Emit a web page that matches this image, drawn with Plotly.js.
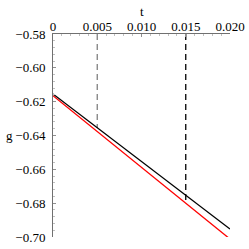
<!DOCTYPE html>
<html><head><meta charset="utf-8">
<script src="https://cdn.plot.ly/plotly-3.0.1.min.js"></script>
<style>html,body{margin:0;padding:0;background:#fff}#c{width:249px;height:249px}</style>
</head><body><div id="c"></div>
<script>
const tBlack = [0, 0.020];
const gBlack = [-0.6155, -0.6953];
const tRed = [0, 0.020];
const gRed = [-0.6165, -0.7012];
const guideT1 = [0.005, 0.005];
const guideG1 = [-0.58, -0.6355];
const guideT2 = [0.015, 0.015];
const guideG2 = [-0.58, -0.6795];
const xTickVals = [0, 0.005, 0.010, 0.015, 0.020];
const xTickText = ["0", "0.005", "0.010", "0.015", "0.020"];
const yTickVals = [-0.58, -0.60, -0.62, -0.64, -0.66, -0.68, -0.70];
const yTickText = ["\u22120.58", "\u22120.60", "\u22120.62", "\u22120.64", "\u22120.66", "\u22120.68", "\u22120.70"];

const font = {family: "Times New Roman", size: 13, color: "#000"};
const data = [
  {x: guideT1, y: guideG1, mode: "lines", line: {color: "#808080", width: 1.3, dash: "6px,4px"}, hoverinfo: "skip"},
  {x: guideT2, y: guideG2, mode: "lines", line: {color: "#000", width: 1.3, dash: "6px,4px"}, hoverinfo: "skip"},
  {x: tRed, y: gRed, mode: "lines", line: {color: "#ff0000", width: 1.3}},
  {x: tBlack, y: gBlack, mode: "lines", line: {color: "#000", width: 1.3}}
];
const layout = {
  width: 249, height: 249,
  margin: {l: 53, r: 19, t: 34, b: 12},
  paper_bgcolor: "#fff", plot_bgcolor: "#fff",
  showlegend: false,
  font: font,
  xaxis: {
    side: "top", range: [0, 0.020], tickvals: xTickVals, ticktext: xTickText,
    showgrid: false, zeroline: false, showline: true, linecolor: "#707070", linewidth: 1,
    ticks: "inside", ticklen: 3, tickcolor: "#909090", ticklabelstandoff: -3,
    minor: {dtick: 0.001, ticklen: 2, tickcolor: "#c0c0c0", ticks: "inside"},
    tickfont: font
  },
  yaxis: {
    range: [-0.70, -0.58], tickvals: yTickVals, ticktext: yTickText,
    showgrid: false, zeroline: false, showline: true, linecolor: "#707070", linewidth: 1,
    ticks: "inside", ticklen: 3, tickcolor: "#909090", ticklabelstandoff: 4,
    minor: {dtick: 0.004, ticklen: 2, tickcolor: "#c0c0c0", ticks: "inside"},
    tickfont: font
  },
  annotations: [
    {text: "t", xref: "paper", yref: "paper", x: 0.5, y: 1, yshift: 23, xanchor: "center", yanchor: "middle", showarrow: false, font: font},
    {text: "g", xref: "paper", yref: "paper", x: 0, xshift: -44, y: 0.5, xanchor: "center", yanchor: "middle", showarrow: false, font: font}
  ]
};
Plotly.newPlot("c", data, layout, {staticPlot: true});
</script></body></html>
